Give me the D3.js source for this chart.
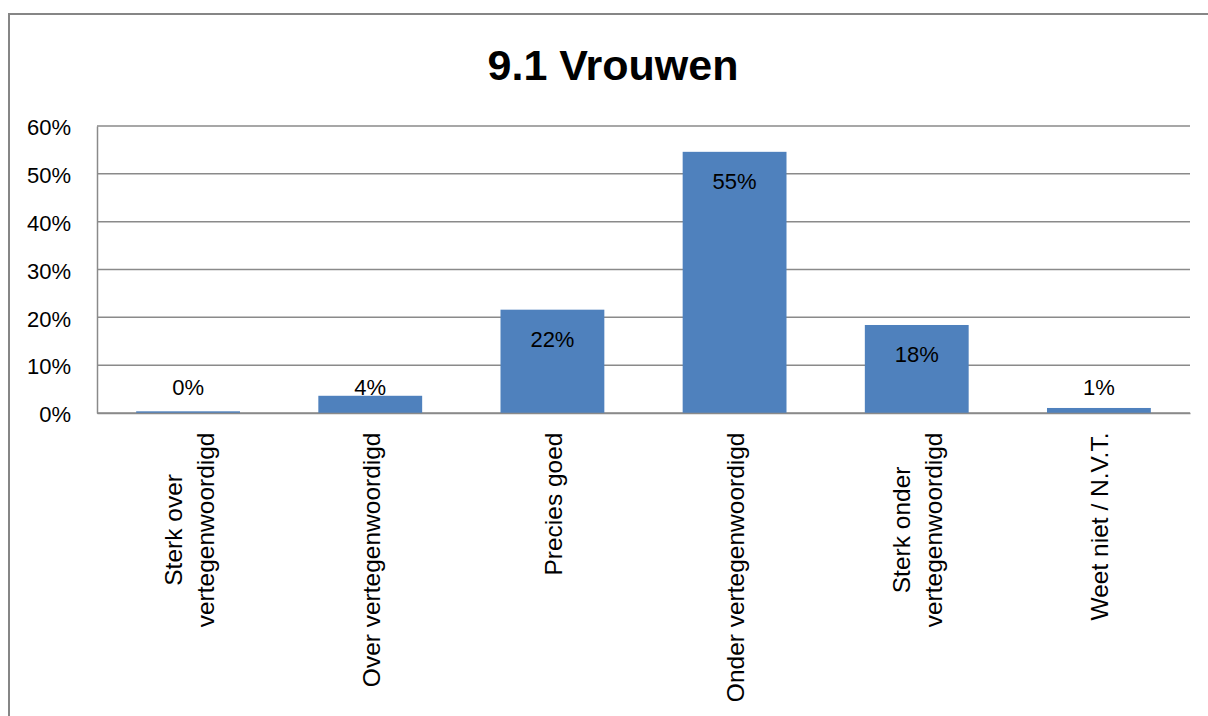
<!DOCTYPE html>
<html>
<head>
<meta charset="utf-8">
<script src="https://cdn.jsdelivr.net/npm/d3@7"></script>
<style>
  html, body { margin: 0; padding: 0; background: #fff; }
  svg { display: block; }
</style>
</head>
<body>
<svg id="chart" width="1208" height="716"></svg>
<script>
const title = "9.1 Vrouwen";
const categories = [
  "Sterk over\nvertegenwoordigd",
  "Over vertegenwoordigd",
  "Precies goed",
  "Onder vertegenwoordigd",
  "Sterk onder\nvertegenwoordigd",
  "Weet niet / N.V.T."
];
const values = [0.35, 3.6, 21.6, 54.6, 18.4, 1.05]; // percent
const yTicks = [0, 10, 20, 30, 40, 50, 60];

const svg = d3.select("#chart");
const W = 1208, H = 716;
const plot = { left: 97, right: 1190, top: 126, bottom: 413 };
const gridColor = "#8a8a8a";
const barColor = "#4F81BD";
const numFont = "'Liberation Sans', Arial, sans-serif";

// outer chart border (right/bottom edges extend beyond view)
svg.append("rect")
  .attr("x", 9).attr("y", 14)
  .attr("width", 1230).attr("height", 800)
  .attr("fill", "#fff")
  .attr("stroke", "#868686").attr("stroke-width", 2);

// title
svg.append("text")
  .attr("x", 613).attr("y", 80)
  .attr("text-anchor", "middle")
  .attr("font-family", numFont)
  .attr("font-weight", "bold")
  .attr("font-size", 43)
  .attr("fill", "#000")
  .text(title);

const x = d3.scaleBand()
  .domain(categories)
  .range([plot.left, plot.right])
  .paddingInner(0.43)
  .paddingOuter(0.215);

const y = d3.scaleLinear()
  .domain([0, 60])
  .range([plot.bottom, plot.top]);

// gridlines
svg.append("g")
  .selectAll("line")
  .data(yTicks)
  .join("line")
  .attr("x1", plot.left).attr("x2", plot.right)
  .attr("y1", d => y(d)).attr("y2", d => y(d))
  .attr("stroke", gridColor).attr("stroke-width", 1.5);

// y axis
const yAxis = d3.axisLeft(y)
  .tickValues(yTicks)
  .tickSize(0)
  .tickPadding(26)
  .tickFormat(d => d + "%");
const gy = svg.append("g")
  .attr("transform", `translate(${plot.left},0)`)
  .call(yAxis);
gy.select(".domain").attr("stroke", gridColor).attr("stroke-width", 1.5);
gy.selectAll("text")
  .attr("font-family", numFont)
  .attr("font-size", 22)
  .attr("fill", "#000")
  .attr("dy", "0.4em");

// bars
svg.append("g")
  .selectAll("rect")
  .data(values)
  .join("rect")
  .attr("x", (d, i) => x(categories[i]))
  .attr("width", x.bandwidth())
  .attr("y", d => y(d))
  .attr("height", d => y(0) - y(d))
  .attr("fill", barColor);

// x axis line
const xAxis = d3.axisBottom(x).tickSize(0).tickFormat("");
const gx = svg.append("g")
  .attr("transform", `translate(0,${plot.bottom})`)
  .call(xAxis);
gx.select(".domain").attr("stroke", gridColor).attr("stroke-width", 1.5);

// data labels
const fmt = d3.format(".0f");
svg.append("g")
  .selectAll("text")
  .data(values)
  .join("text")
  .attr("x", (d, i) => x(categories[i]) + x.bandwidth() / 2)
  .attr("y", d => Math.min(y(d) + 37.5, y(0) - 18))
  .attr("text-anchor", "middle")
  .attr("font-family", numFont)
  .attr("font-size", 22)
  .attr("fill", "#000")
  .text(d => fmt(d) + "%");

// category labels (rotated, multi-line, block ends at fixed y)
const labelTop = 432.5;
const lineGap = 32;
categories.forEach((c, i) => {
  const cx = x(c) + x.bandwidth() / 2;
  const lines = c.split("\n");
  const g = svg.append("g")
    .attr("transform", `translate(${cx},${labelTop}) rotate(-90)`);
  const texts = lines.map((ln, j) => g.append("text")
    .attr("font-family", numFont)
    .attr("font-size", 24.5)
    .attr("fill", "#000")
    .attr("text-anchor", "middle")
    .attr("y", 9.5 + (j - (lines.length - 1) / 2) * lineGap)
    .text(ln));
  const maxLen = d3.max(texts, t => t.node().getComputedTextLength());
  texts.forEach(t => t.attr("x", -maxLen / 2));
});
</script>
</body>
</html>
